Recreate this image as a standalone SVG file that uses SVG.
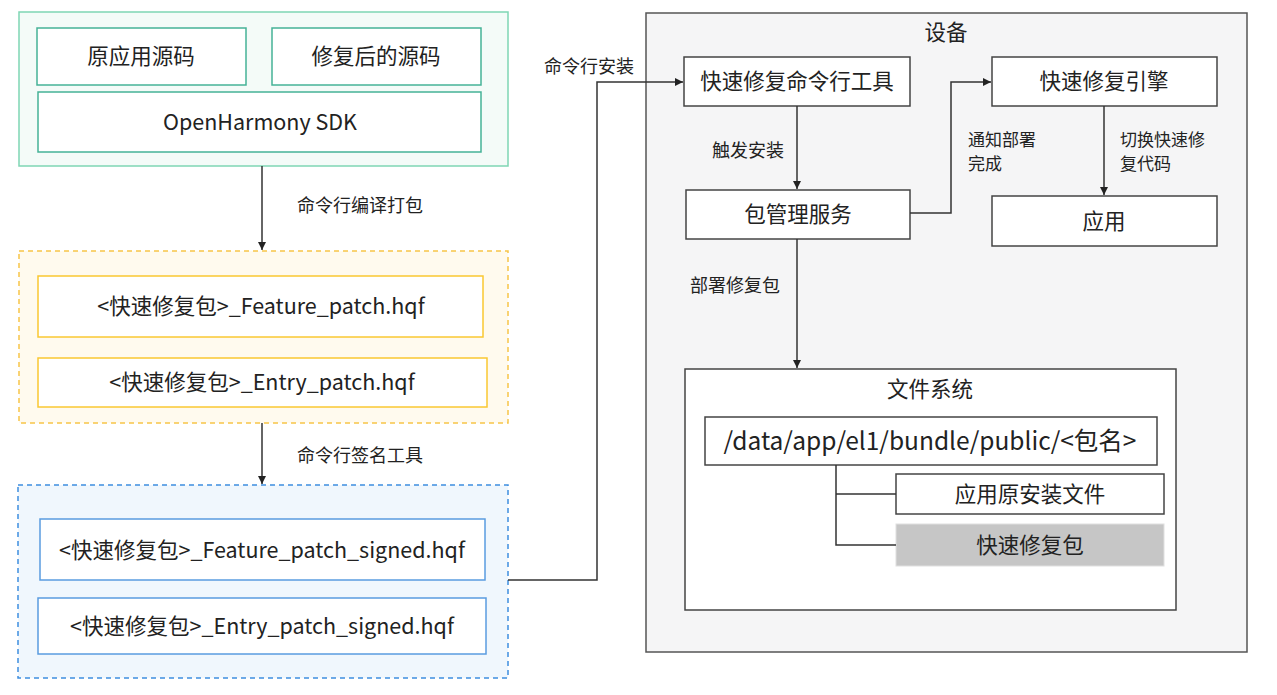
<svg xmlns="http://www.w3.org/2000/svg" width="1277" height="695" viewBox="0 0 1277 695">
<defs>
<marker id="arr" markerWidth="10" markerHeight="10" refX="8" refY="4" orient="auto" markerUnits="userSpaceOnUse">
<path d="M0,0 L8,4 L0,8 z" fill="#222"/>
</marker>
<style>
text{font-family:"Noto Sans CJK SC","Noto Sans",sans-serif;fill:#222;text-anchor:middle;dominant-baseline:central}
.t{font-size:21.5px}
.l{font-size:18px;text-anchor:start}
.s{font-size:17px}
.g{fill:#f4fbf8;stroke:#7fd6b4;stroke-width:1.5}
.gi{fill:#fff;stroke:#45b397;stroke-width:1.5}
.y{fill:#fffaee;stroke:#f7c548;stroke-width:1.5;stroke-dasharray:5 4}
.yi{fill:#fff;stroke:#fac832;stroke-width:1.5}
.b{fill:#f0f7fd;stroke:#3e8ee0;stroke-width:1.5;stroke-dasharray:5 4}
.bi{fill:#fff;stroke:#5a9ce0;stroke-width:1.5}
.d{fill:#fff;stroke:#444;stroke-width:1.5}
.c{fill:none;stroke:#333;stroke-width:1.5}
</style>
</defs>
<rect width="1277" height="695" fill="#fff"/>

<g id="source">
<rect class="g" x="19" y="12" width="489" height="154"/>
<g id="orig-src"><rect class="gi" x="37" y="28" width="209" height="57"/><text class="t" x="141" y="54.5">原应用源码</text></g>
<g id="fixed-src"><rect class="gi" x="272" y="28" width="209" height="57"/><text class="t" x="376" y="54.5">修复后的源码</text></g>
<g id="sdk"><rect class="gi" x="38" y="92" width="443" height="60"/><text class="t" x="260" y="120.5">OpenHarmony SDK</text></g>
</g>

<g id="patches">
<rect class="y" x="19" y="251" width="489" height="172"/>
<g id="feature-patch"><rect class="yi" x="38" y="276" width="445" height="61"/><text class="t" x="261" y="304.5">&lt;快速修复包&gt;_Feature_patch.hqf</text></g>
<g id="entry-patch"><rect class="yi" x="38" y="358" width="449" height="49"/><text class="t" x="262" y="380.5">&lt;快速修复包&gt;_Entry_patch.hqf</text></g>
</g>

<g id="signed">
<rect class="b" x="18" y="485" width="490" height="193"/>
<g id="feature-signed"><rect class="bi" x="40" y="519" width="445" height="61"/><text class="t" x="262" y="548.5">&lt;快速修复包&gt;_Feature_patch_signed.hqf</text></g>
<g id="entry-signed"><rect class="bi" x="38" y="598" width="448" height="56"/><text class="t" x="262" y="624.5">&lt;快速修复包&gt;_Entry_patch_signed.hqf</text></g>
</g>

<g id="device">
<rect x="646" y="13" width="601" height="639" fill="#f5f5f6" stroke="#555" stroke-width="1.5"/>
<text class="t" x="946" y="30.5">设备</text>
</g>
<g id="cli-tool"><rect class="d" x="684" y="57" width="226" height="49"/><text class="t" x="797" y="79.5">快速修复命令行工具</text></g>
<g id="engine"><rect class="d" x="992" y="57" width="225" height="49"/><text class="t" x="1104" y="79.5">快速修复引擎</text></g>
<g id="bms"><rect class="d" x="686" y="190" width="224" height="49"/><text class="t" x="798" y="212.5">包管理服务</text></g>
<g id="app"><rect class="d" x="992" y="196" width="225" height="50"/><text class="t" x="1104" y="219.5">应用</text></g>

<g id="filesystem">
<rect class="d" x="685" y="369" width="491" height="241"/>
<text class="t" x="930" y="387.5">文件系统</text>
<g id="path"><rect class="d" x="705" y="417" width="452" height="48"/><text x="930" y="439.5" font-size="24.5">/data/app/el1/bundle/public/&lt;包名&gt;</text></g>
<g id="orig-files"><rect class="d" x="896" y="474" width="268" height="40"/><text class="t" x="1030" y="492.5">应用原安装文件</text></g>
<g id="fix-pkg"><rect x="896" y="524" width="268" height="42" fill="#c6c6c6" stroke="#e0e0e0" stroke-width="1"/><text class="t" x="1030" y="543.5">快速修复包</text></g>
</g>

<g id="connectors">
<path class="c" d="M262,166 V250" marker-end="url(#arr)"/>
<path class="c" d="M262,423 V484" marker-end="url(#arr)"/>
<path class="c" d="M508,580 H597 V82 H683" marker-end="url(#arr)"/>
<path class="c" d="M797,106 V189" marker-end="url(#arr)"/>
<path class="c" d="M910,213 H951 V82 H991" marker-end="url(#arr)"/>
<path class="c" d="M1104,106 V195" marker-end="url(#arr)"/>
<path class="c" d="M797,239 V368" marker-end="url(#arr)"/>
<path class="c" d="M836,465 V545 H896 M836,494 H896"/>
</g>

<g id="labels">
<text class="l" x="297" y="203.5">命令行编译打包</text>
<text class="l" x="297" y="453.5">命令行签名工具</text>
<text class="l" x="544" y="64.5">命令行安装</text>
<text class="l" x="712" y="148.5">触发安装</text>
<text class="l s" x="968" y="138">通知部署</text>
<text class="l s" x="968" y="162">完成</text>
<text class="l s" x="1120" y="138">切换快速修</text>
<text class="l s" x="1120" y="162">复代码</text>
<text class="l" x="690" y="283.5">部署修复包</text>
</g>
</svg>
